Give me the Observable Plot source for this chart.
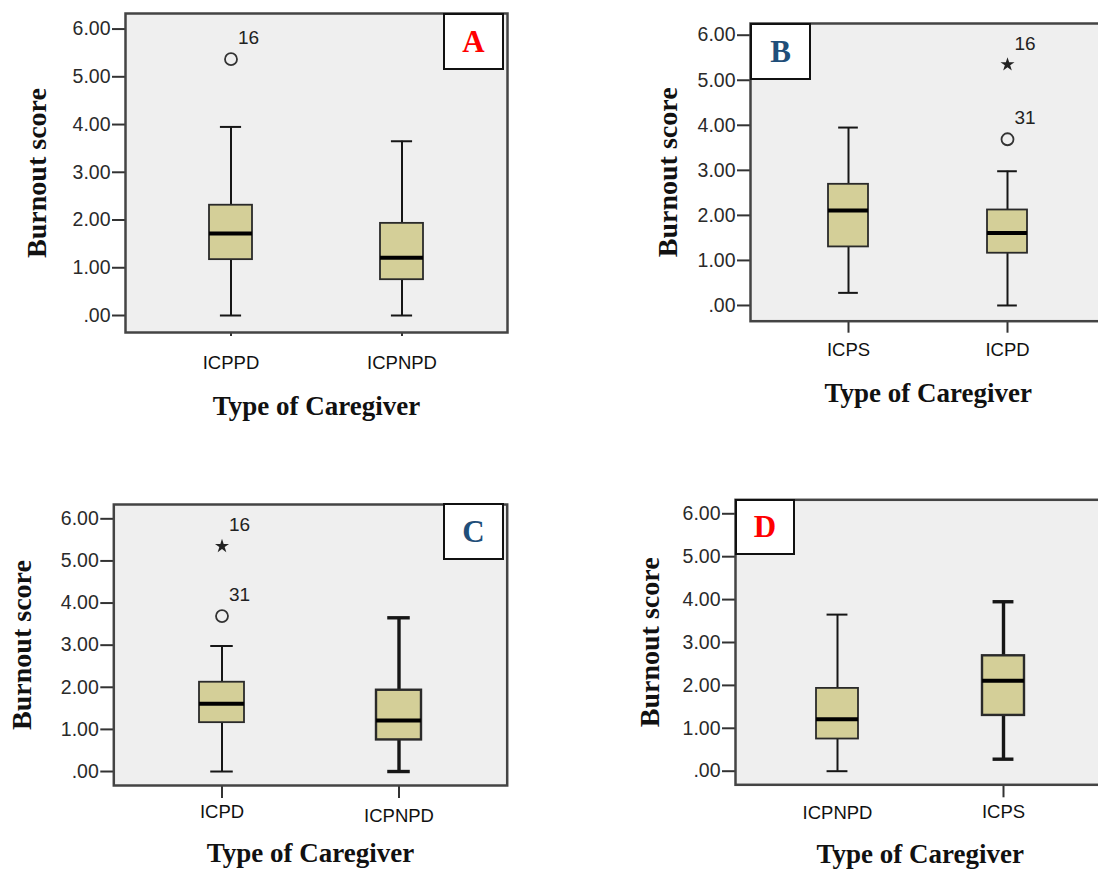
<!DOCTYPE html>
<html>
<head>
<meta charset="utf-8">
<script src="https://cdn.jsdelivr.net/npm/d3@7"></script>
<script src="https://cdn.jsdelivr.net/npm/@observablehq/plot@0.6"></script>
<style>
  html, body { margin: 0; padding: 0; background: #fff; overflow: hidden; }
  #chart { position: relative; width: 1098px; height: 870px; overflow: hidden; background: #fff; }
  .panel { position: absolute; }
  .tag {
    position: absolute; box-sizing: border-box; border: 2px solid #111; background: #fff;
    font: bold 31px "Liberation Serif", "Times New Roman", serif;
    display: flex; align-items: center; justify-content: center;
  }
</style>
</head>
<body>
<div id="chart"></div>
<script>
// Box-plot summaries of burnout score per caregiver type
const groups = ["ICPPD", "ICPNPD", "ICPS", "ICPD"];
const lowerWhisker = [0.00, 0.00, 0.28, 0.00];
const lowerQuartile = [1.17, 0.75, 1.30, 1.16];
const median = [1.72, 1.21, 2.11, 1.61];
const upperQuartile = [2.31, 1.93, 2.69, 2.12];
const upperWhisker = [3.95, 3.65, 3.95, 2.98];

// Cases beyond the whiskers (circle = outlier, star = extreme)
const outlierGroup = ["ICPPD", "ICPD", "ICPD"];
const outlierValue = [5.37, 3.69, 5.35];
const outlierCase = ["16", "31", "16"];
const outlierKind = ["outlier", "outlier", "extreme"];

// Comparisons shown in each panel
const panelLetters = ["A", "B", "C", "D"];
const panelGroups = [["ICPPD", "ICPNPD"], ["ICPS", "ICPD"], ["ICPD", "ICPNPD"], ["ICPNPD", "ICPS"]];

const yTicks = [0, 1, 2, 3, 4, 5, 6];
const yTickLabels = [".00", "1.00", "2.00", "3.00", "4.00", "5.00", "6.00"];
const yTitle = "Burnout score";
const xTitle = "Type of Caregiver";

// Layout and styling of each panel
const layout = [
  {left: 0, top: 0, width: 540, height: 430, mt: 13, mr: 33, mb: 98, ml: 125, yDomain: [-0.356, 6.326],
   xTickSize: 4, xTickGroups: ["ICPPD", "ICPNPD"], labelDy: [31, 31], xTitleDy: 74, xTitleLen: 214,
   yTitleDx: -88, yTitleLen: 180, heavy: null, tagColor: "#ff0000", tag: [443, 13, 61, 57]},
  {left: 640, top: 0, width: 470, height: 430, mt: 23, mr: 4.5, mb: 109.3, ml: 110, yDomain: [-0.349, 6.26],
   xTickSize: 12, xTickGroups: ["ICPS", "ICPD"], labelDy: [28.5, 28.5], xTitleDy: 72, xTitleLen: 198,
   yTitleDx: -82, yTitleLen: 171, heavy: null, tagColor: "#1f4e79", tag: [750, 23, 61, 57]},
  {left: 0, top: 470, width: 540, height: 400, mt: 34, mr: 33.3, mb: 85, ml: 113.3, yDomain: [-0.332, 6.34],
   xTickSize: 13, xTickGroups: ["ICPD", "ICPNPD"], labelDy: [26.7, 30.5], xTitleDy: 68, xTitleLen: 236,
   yTitleDx: -91.6, yTitleLen: 172, heavy: "ICPNPD", tagColor: "#1f4e79", tag: [443, 503, 61, 57]},
  {left: 620, top: 470, width: 490, height: 400, mt: 29.3, mr: 5.5, mb: 85.7, ml: 115, yDomain: [-0.317, 6.326],
   xTickSize: 13, xTickGroups: ["ICPS"], labelDy: [28.5, 27.2], xTitleDy: 69.5, xTitleLen: 223,
   yTitleDx: -85, yTitleLen: 173, heavy: "ICPS", tagColor: "#ff0000", tag: [735, 499, 60, 56]}
];

const PAD_INNER = 0.746, PAD_OUTER = 0.484;
const sans = '"Liberation Sans", Arial, Helvetica, sans-serif';
const serif = '"Liberation Serif", "Times New Roman", Times, serif';
const boxFill = "#d4cf98";

const chart = document.getElementById("chart");

panelLetters.forEach((letter, k) => {
  const p = layout[k];
  const cats = panelGroups[k];
  const rows = cats.map(g => {
    const i = groups.indexOf(g);
    return {group: g, lo: lowerWhisker[i], q1: lowerQuartile[i], med: median[i], q3: upperQuartile[i], hi: upperWhisker[i]};
  });
  const outs = outlierGroup
    .map((g, i) => ({group: g, value: outlierValue[i], label: outlierCase[i], kind: outlierKind[i]}))
    .filter(d => cats.includes(d.group));

  const frameW = p.width - p.ml - p.mr;
  const bandW = frameW / (2 - PAD_INNER + 2 * PAD_OUTER) * (1 - PAD_INNER);
  const capInset = bandW / 4;
  const lw = d => (d.group === p.heavy ? 3.4 : 2);

  const svg = Plot.plot({
    width: p.width,
    height: p.height,
    marginTop: p.mt,
    marginRight: p.mr,
    marginBottom: p.mb,
    marginLeft: p.ml,
    style: {fontFamily: sans, background: "transparent", overflow: "visible", color: "#1a1a1a"},
    x: {type: "band", domain: cats, paddingInner: PAD_INNER, paddingOuter: PAD_OUTER, axis: null},
    y: {domain: p.yDomain, axis: null},
    marks: [
      Plot.frame({fill: "#efefef"}),
      // whiskers and caps
      Plot.ruleX(rows, {x: "group", y1: "lo", y2: "q1", stroke: "#161616", strokeWidth: lw}),
      Plot.ruleX(rows, {x: "group", y1: "q3", y2: "hi", stroke: "#161616", strokeWidth: lw}),
      Plot.tickY(rows, {x: "group", y: "lo", stroke: "#161616", strokeWidth: lw, insetLeft: capInset, insetRight: capInset}),
      Plot.tickY(rows, {x: "group", y: "hi", stroke: "#161616", strokeWidth: lw, insetLeft: capInset, insetRight: capInset}),
      // interquartile box and median
      Plot.barY(rows, {x: "group", y1: "q1", y2: "q3", fill: boxFill, stroke: "#2a2a2a", strokeWidth: d => (d.group === p.heavy ? 2.4 : 1.8)}),
      Plot.tickY(rows, {x: "group", y: "med", stroke: "#000", strokeWidth: 4}),
      // outliers and extremes with case numbers
      Plot.dot(outs.filter(d => d.kind === "outlier"), {x: "group", y: "value", r: 6, stroke: "#333", strokeWidth: 1.8, fill: "none"}),
      Plot.dot(outs.filter(d => d.kind === "extreme"), {x: "group", y: "value", symbol: "star", r: 4.4, fill: "#222", stroke: "none"}),
      Plot.text(outs, {x: "group", y: "value", text: "label", dx: 7, dy: -21, textAnchor: "start", fontSize: 19, fill: "#222", fontFamily: sans}),
      // axes
      Plot.axisY({ticks: yTicks, tickFormat: d => yTickLabels[yTicks.indexOf(d)], tickSize: 13, tickPadding: 2,
        fontSize: 19.5, stroke: "#333", fill: "#2a2a2a", strokeWidth: 2, label: null}),
      Plot.axisX({ticks: p.xTickGroups, tickSize: p.xTickSize, tickFormat: () => "", stroke: "#333", strokeWidth: 2, label: null}),
      ...cats.map((g, j) => Plot.text([g], {x: d => d, text: d => d, frameAnchor: "bottom", dy: p.labelDy[j], lineAnchor: "middle",
        fontSize: 18.5, fill: "#111", fontFamily: sans})),
      // axis titles
      Plot.text([xTitle], {text: d => d, frameAnchor: "bottom", dy: p.xTitleDy, textAnchor: "middle", lineAnchor: "middle", fontSize: 27,
        fontWeight: "bold", fontFamily: serif, fill: "#111", ariaLabel: "x-title"}),
      Plot.text([yTitle], {text: d => d, frameAnchor: "left", rotate: -90, dx: p.yTitleDx, textAnchor: "middle", lineAnchor: "middle", fontSize: 28,
        fontWeight: "bold", fontFamily: serif, fill: "#111", ariaLabel: "y-title"}),
      Plot.frame({stroke: "#444", strokeWidth: 2.5})
    ]
  });

  // stretch the axis titles to their set widths
  svg.querySelectorAll('g[aria-label="x-title"] text').forEach(t => {
    t.setAttribute("textLength", p.xTitleLen);
    t.setAttribute("lengthAdjust", "spacing");
  });
  svg.querySelectorAll('g[aria-label="y-title"] text').forEach(t => {
    t.setAttribute("textLength", p.yTitleLen);
    t.setAttribute("lengthAdjust", "spacing");
  });

  svg.classList.add("panel");
  svg.style.left = p.left + "px";
  svg.style.top = p.top + "px";
  chart.appendChild(svg);

  // panel letter badge
  const tag = document.createElement("div");
  tag.className = "tag";
  tag.textContent = letter;
  tag.style.color = p.tagColor;
  tag.style.left = p.tag[0] + "px";
  tag.style.top = p.tag[1] + "px";
  tag.style.width = p.tag[2] + "px";
  tag.style.height = p.tag[3] + "px";
  chart.appendChild(tag);
});
</script>
</body>
</html>
